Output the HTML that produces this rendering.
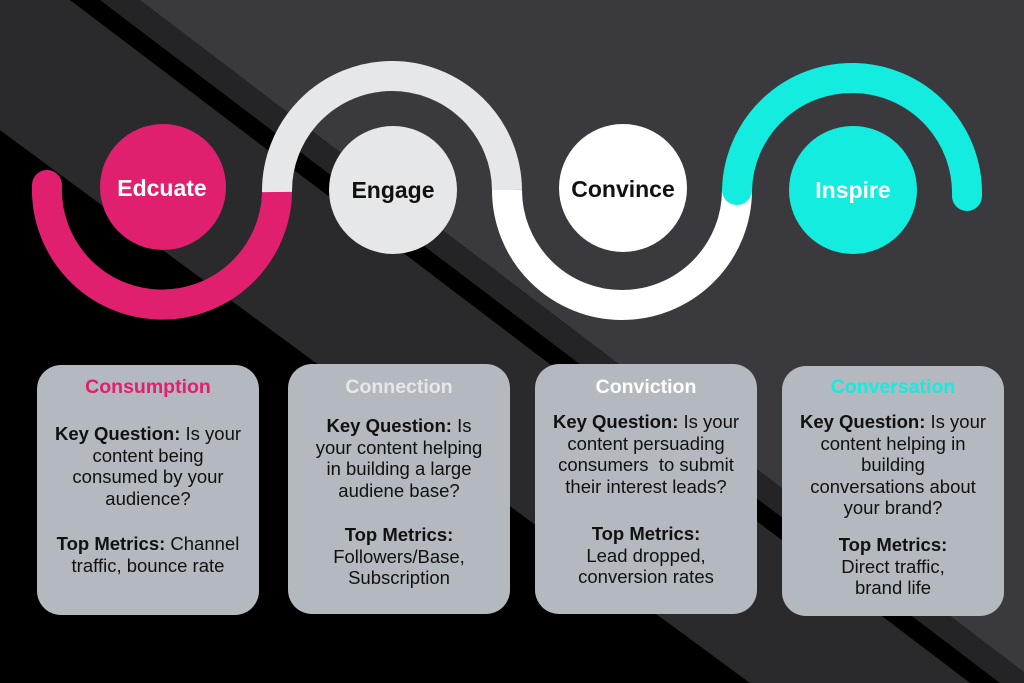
<!DOCTYPE html>
<html><head><meta charset="utf-8"><style>
html,body{margin:0;padding:0;}
body{width:1024px;height:683px;position:relative;overflow:hidden;background:#2a2a2c;font-family:"Liberation Sans",sans-serif;}
svg{position:absolute;left:0;top:0;}
.box{position:absolute;background:#b4b8bf;border-radius:24px;width:222px;height:250px;}
.t{position:absolute;left:0;width:100%;text-align:center;font-weight:bold;font-size:19.5px;}
.tx{position:absolute;left:0;width:100%;text-align:center;font-size:18.5px;line-height:21.5px;color:#111;white-space:nowrap;}
.tx b{font-weight:bold;}
</style></head><body>
<svg width="1024" height="683" viewBox="0 0 1024 683">
<polygon points="140,0 1024,0 1024,672" fill="#3a393e"/>
<polygon points="100,0 140,0 1024,672 1024,683 1000,683" fill="#242426"/>
<polygon points="70,0 100,0 1000,683 970,683" fill="#000"/>
<polygon points="0,130 750,683 0,683" fill="#000"/>
<polygon points="0,130 750,683 970,683 300,175" fill="#2a2a2c"/>
<path d="M47,185 A115,115 0 0 0 277,194" fill="none" stroke="#e0206e" stroke-width="30" stroke-linecap="round"/>
<path d="M277,194 L277,192" fill="none" stroke="#e0206e" stroke-width="30"/>
<path d="M277,192 A115,115 0 0 1 507,190" fill="none" stroke="#e6e7e9" stroke-width="30"/>
<path d="M507,190 A115,115 0 0 0 737,190" fill="none" stroke="#ffffff" stroke-width="30"/>
<path d="M737,190 A115,115 0 0 1 967,196" fill="none" stroke="#14ece0" stroke-width="30" stroke-linecap="round"/>
<circle cx="163" cy="187" r="63" fill="#e0206e"/>
<circle cx="393" cy="190" r="64" fill="#e6e7e9"/>
<circle cx="623" cy="188" r="64" fill="#ffffff"/>
<circle cx="853" cy="190" r="64" fill="#14ece0"/>
<g font-family="Liberation Sans, sans-serif" font-weight="bold" font-size="23" text-anchor="middle">
<text x="162" y="196" fill="#fff">Edcuate</text>
<text x="393" y="198" fill="#111">Engage</text>
<text x="623" y="197" fill="#111">Convince</text>
<text x="853" y="198" fill="#fff">Inspire</text>
</g>
</svg>

<div class="box" style="left:37px;top:365px;">
<div class="t" style="top:11px;color:#e0206e;">Consumption</div>
<div class="tx" style="top:58px;"><b>Key Question:</b> Is your<br>content being<br>consumed by your<br>audience?</div>
<div class="tx" style="top:168px;"><b>Top Metrics:</b> Channel<br>traffic, bounce rate</div>
</div>
<div class="box" style="left:288px;top:364px;">
<div class="t" style="top:12px;color:#e6e7e9;">Connection</div>
<div class="tx" style="top:51px;"><b>Key Question:</b> Is<br>your content helping<br>in building a large<br>audiene base?</div>
<div class="tx" style="top:160px;"><b>Top Metrics:</b><br>Followers/Base,<br>Subscription</div>
</div>
<div class="box" style="left:535px;top:364px;">
<div class="t" style="top:12px;color:#fff;">Conviction</div>
<div class="tx" style="top:47px;"><b>Key Question:</b> Is your<br>content persuading<br>consumers &nbsp;to submit<br>their interest leads?</div>
<div class="tx" style="top:159px;"><b>Top Metrics:</b><br>Lead dropped,<br>conversion rates</div>
</div>
<div class="box" style="left:782px;top:366px;">
<div class="t" style="top:10px;color:#14ece0;">Conversation</div>
<div class="tx" style="top:45px;"><b>Key Question:</b> Is your<br>content helping in<br>building<br>conversations about<br>your brand?</div>
<div class="tx" style="top:168px;"><b>Top Metrics:</b><br>Direct traffic,<br>brand life</div>
</div>
</body></html>
